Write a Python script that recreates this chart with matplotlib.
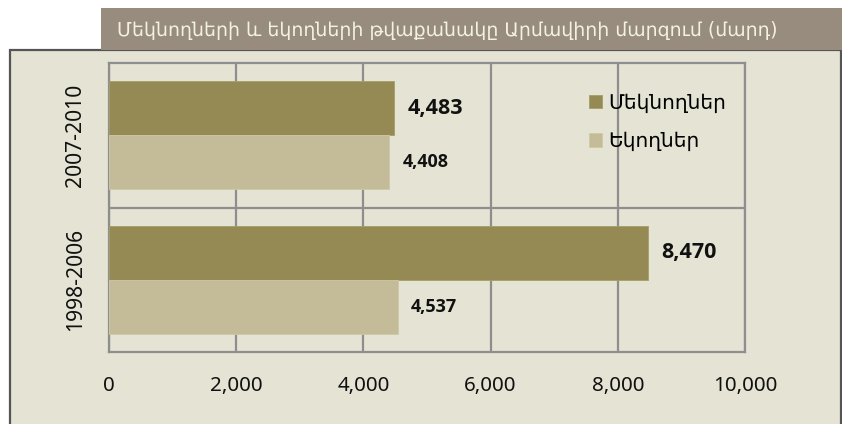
import matplotlib
matplotlib.use("Agg")
import matplotlib.pyplot as plt
from matplotlib.patches import Rectangle
from matplotlib.ticker import FuncFormatter
import numpy as np

# ---- data ----
categories = ["1998-2006", "2007-2010"]
series_names = ["Մեկնողներ", "Եկողներ"]
leaving = [8470, 4483]
arriving = [4537, 4408]
x_ticks = [0, 2000, 4000, 6000, 8000, 10000]
title = "Մեկնողների և եկողների թվաքանակը Արմավիրի մարզում (մարդ)"

# ---- style ----
W, H = 842, 424
DPI = 100
panel_bg = "#e5e3d4"
title_bg = "#978c7d"
dark = "#958a54"
light = "#c4bc98"
grid_c = "#8e8e8e"
num_font = ["Noto Sans", "DejaVu Sans"]
bold_font = ["Open Sans", "DejaVu Sans"]
arm_font = ["DejaVu Sans"]

fig = plt.figure(figsize=(W / DPI, H / DPI), dpi=DPI, facecolor="white")

def fx(px):
    return px / W

def fy(py):
    return 1 - py / H

# panel background with border
fig.patches.append(Rectangle((fx(10), fy(432)), fx(831), (432 - 50) / H,
                             transform=fig.transFigure, facecolor=panel_bg,
                             edgecolor="#555555", linewidth=1.6, zorder=-10))
# title bar
fig.patches.append(Rectangle((fx(101), fy(50)), fx(745), 42 / H,
                             transform=fig.transFigure, facecolor=title_bg,
                             edgecolor="none", zorder=-9))
fig.text(fx(117), fy(30), title, color="#f3f1e2", fontsize=13.6,
         family=arm_font, va="center", ha="left", zorder=2)

ax = fig.add_axes([fx(109), fy(352), fx(636), 289 / H])
ax.set_facecolor("none")
ax.set_zorder(1)

y = np.arange(len(categories)) + 0.5
bh = 0.373
ax.barh(y + bh / 2, leaving, height=bh, color=dark, edgecolor="#a69d6a",
        linewidth=0.6, label=series_names[0], zorder=3)
ax.barh(y - bh / 2, arriving, height=bh, color=light, edgecolor="#cfc8a8",
        linewidth=0.6, label=series_names[1], zorder=3)

for yi, v in zip(y, leaving):
    ax.annotate(f"{v:,}", (v, yi + bh / 2), xytext=(14, 0),
                textcoords="offset pixels", va="center", ha="left",
                fontsize=15.5, fontweight="bold", family=bold_font, color="#111111")
for yi, v in zip(y, arriving):
    ax.annotate(f"{v:,}", (v, yi - bh / 2), xytext=(13, 0),
                textcoords="offset pixels", va="center", ha="left",
                fontsize=13, fontweight="bold", family=bold_font, color="#111111")

ax.set_xlim(0, 10000)
ax.set_ylim(0, 2)
ax.set_xticks(x_ticks)
ax.xaxis.set_major_formatter(FuncFormatter(lambda v, p: f"{int(v):,}"))
ax.set_yticks(y)
ax.set_yticklabels(categories, rotation=90, va="center", family=num_font,
                   fontsize=15.2)
for lab in ax.get_xticklabels():
    lab.set_family(num_font)
    lab.set_fontsize(14.8)
ax.tick_params(axis="x", length=0, pad=17.5, colors="#111111")
ax.tick_params(axis="y", length=0, pad=16.5, colors="#111111")

ax.grid(axis="x", color=grid_c, linewidth=1.6, zorder=1)
ax.axhline(1, color=grid_c, linewidth=1.6, zorder=1)
for s in ax.spines.values():
    s.set_color(grid_c)
    s.set_linewidth(1.6)

leg = ax.legend(loc="upper left", bbox_to_anchor=(0.755, 0.895), frameon=False,
                prop={"family": arm_font, "size": 14.5}, handlelength=0.65,
                handleheight=0.65, handletextpad=0.3, labelspacing=0.95,
                borderpad=0, borderaxespad=0)

fig.savefig("out.png", dpi=DPI, facecolor="white")
